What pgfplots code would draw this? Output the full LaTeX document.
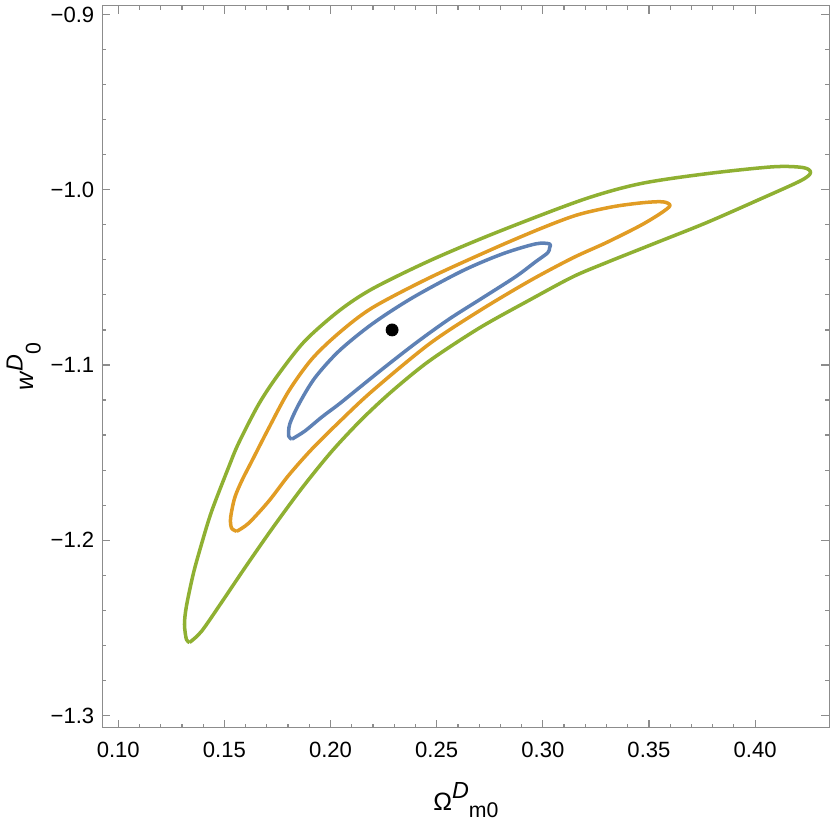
\documentclass[border=0pt]{standalone}
\usepackage{fontspec}
\setmainfont{Liberation Sans}
\usepackage{pgfplots}
\pgfplotsset{compat=1.18}
\definecolor{mblue}{rgb}{0.368417,0.506779,0.709798}
\definecolor{morange}{rgb}{0.880722,0.611041,0.142051}
\definecolor{mgreen}{rgb}{0.560181,0.691569,0.194885}
\definecolor{framegray}{gray}{0.55}
\begin{document}
\begin{tikzpicture}
\begin{axis}[
  width=362.5pt, height=360pt, scale only axis,
  xmin=0.0925, xmax=0.435, ymin=-1.307, ymax=-0.895,
  xtick={0.10,0.15,0.20,0.25,0.30,0.35,0.40},
  xticklabels={0.10,0.15,0.20,0.25,0.30,0.35,0.40},
  ytick={-1.3,-1.2,-1.1,-1.0,-0.9},
  yticklabels={−1.3,−1.2,−1.1,−1.0,−0.9},
  minor x tick num=4, minor y tick num=4,
  tick align=inside, major tick length=4pt, minor tick length=2pt,
  axis line style={framegray, line width=0.6pt},
  tick style={framegray, line width=0.6pt},
  every tick label/.append style={font=\fontsize{11}{13}\selectfont, black},
  xticklabel style={yshift=-3.5pt},
  yticklabel style={xshift=-0.5pt},
  xlabel={\fontsize{12.5}{14}\selectfont Ω\raisebox{5.5pt}{\fontsize{11.6}{13}\selectfont\textit{D}}\raisebox{-3.5pt}{\fontsize{10.6}{12}\selectfont m0}},
  ylabel={\fontsize{12.5}{14}\selectfont \textit{w}\raisebox{5.5pt}{\fontsize{11.6}{13}\selectfont\textit{D}}\raisebox{-3.5pt}{\fontsize{10.6}{12}\selectfont 0}},
  xlabel style={at={(axis description cs:0.5,-0.1139)}, anchor=base},
  ylabel style={at={(axis description cs:-0.108,0.5)}, anchor=center},
  clip=false,
]
% green (outer)
\addplot[mgreen, line width=1.75pt, smooth, tension=0.5, line join=round] coordinates {
(0.1336,-1.2583) (0.1321,-1.2566) (0.1312,-1.2480) (0.1321,-1.2377) (0.1354,-1.2189)
(0.1392,-1.2023) (0.1440,-1.1834) (0.1520,-1.1583) (0.1567,-1.1446) (0.1662,-1.1223)
(0.1756,-1.1051) (0.1879,-1.0863) (0.2040,-1.0691) (0.2196,-1.0566) (0.2465,-1.0406)
(0.2777,-1.0246) (0.3188,-1.0057) (0.3457,-0.9966) (0.3769,-0.9909) (0.4086,-0.9869)
(0.4228,-0.9874) (0.4261,-0.9903)
(0.4214,-0.9949) (0.4006,-1.0063) (0.3769,-1.0189) (0.3533,-1.0303) (0.3297,-1.0417)
(0.3141,-1.0497) (0.2938,-1.0629) (0.2701,-1.0789) (0.2465,-1.0977) (0.2290,-1.1149)
(0.2148,-1.1309) (0.2007,-1.1491) (0.1865,-1.1703) (0.1723,-1.1937) (0.1595,-1.2160)
(0.1487,-1.2354) (0.1392,-1.2520) (0.1336,-1.2583)
};
% orange (middle)
\addplot[morange, line width=1.75pt, smooth, tension=0.5, line join=round] coordinates {
(0.1558,-1.1949) (0.1534,-1.1931) (0.1529,-1.1874) (0.1548,-1.1760) (0.1581,-1.1663)
(0.1629,-1.1549) (0.1709,-1.1360) (0.1803,-1.1149) (0.1912,-1.0966) (0.2040,-1.0817)
(0.2196,-1.0674) (0.2465,-1.0503) (0.2777,-1.0331) (0.2999,-1.0217) (0.3164,-1.0143)
(0.3330,-1.0097) (0.3472,-1.0074) (0.3566,-1.0069) (0.3599,-1.0091)
(0.3552,-1.0137) (0.3457,-1.0206) (0.3297,-1.0303) (0.3141,-1.0389) (0.2938,-1.0520)
(0.2701,-1.0691) (0.2465,-1.0880) (0.2196,-1.1149) (0.2040,-1.1326) (0.1912,-1.1480)
(0.1803,-1.1629) (0.1709,-1.1777) (0.1614,-1.1903) (0.1558,-1.1949)
};
% blue (inner)
\addplot[mblue, line width=1.75pt, smooth, tension=0.5, line join=round] coordinates {
(0.1818,-1.1423) (0.1803,-1.1406) (0.1808,-1.1337) (0.1851,-1.1223) (0.1926,-1.1074)
(0.2040,-1.0920) (0.2196,-1.0766) (0.2385,-1.0617) (0.2621,-1.0463) (0.2810,-1.0366)
(0.2966,-1.0309) (0.3032,-1.0309) (0.3032,-1.0331)
(0.3023,-1.0360) (0.2966,-1.0411) (0.2871,-1.0497) (0.2716,-1.0617) (0.2560,-1.0737)
(0.2408,-1.0869) (0.2257,-1.1011) (0.2134,-1.1131) (0.2040,-1.1223) (0.1959,-1.1297)
(0.1879,-1.1377) (0.1818,-1.1423)
};
% best fit point
\addplot[only marks, mark=*, mark size=3pt, black] coordinates {(0.229,-1.080)};
\end{axis}
\end{tikzpicture}
\end{document}
